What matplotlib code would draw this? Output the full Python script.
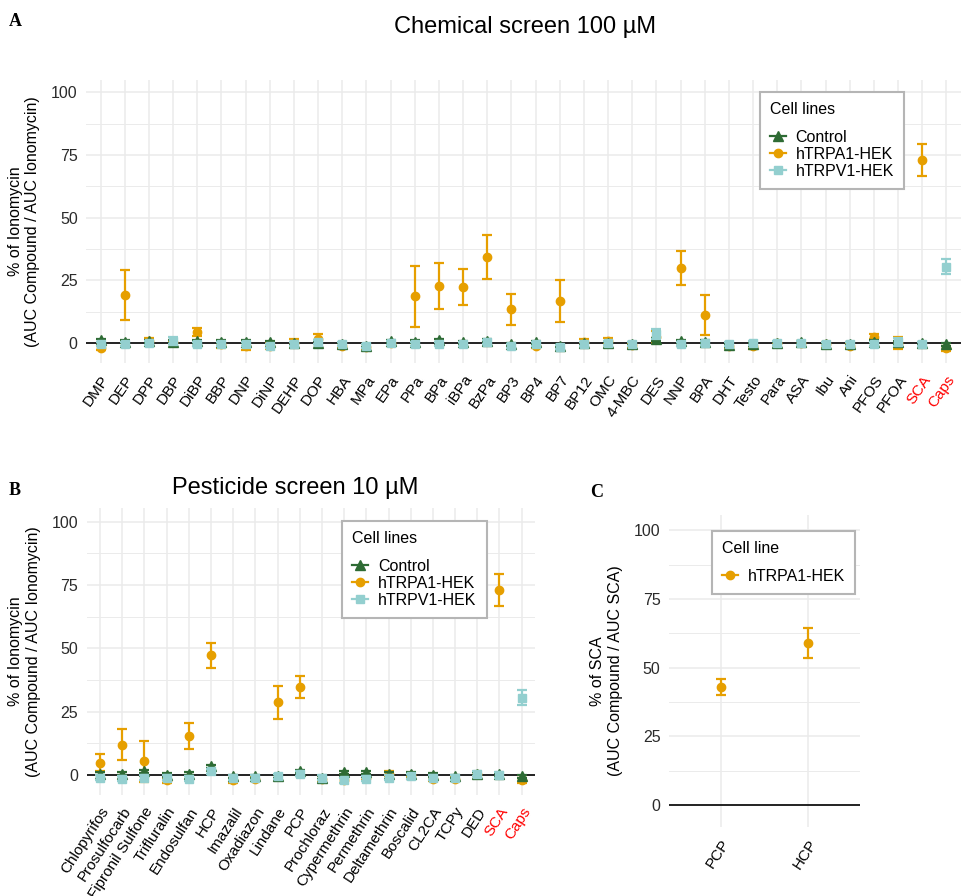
import matplotlib
matplotlib.use('Agg')
import matplotlib.pyplot as plt
import numpy as np
from matplotlib.lines import Line2D

plt.rcParams['font.family'] = ['Liberation Sans', 'DejaVu Sans']

# ---- data: panel A (chemical screen 100 uM) ----
cats_a = ['DMP', 'DEP', 'DPP', 'DBP', 'DiBP', 'BBP', 'DNP', 'DiNP', 'DEHP', 'DOP',
          'HBA', 'MPa', 'EPa', 'PPa', 'BPa', 'iBPa', 'BzPa', 'BP3', 'BP4', 'BP7',
          'BP12', 'OMC', '4-MBC', 'DES', 'NNP', 'BPA', 'DHT', 'Testo', 'Para', 'ASA',
          'Ibu', 'Ani', 'PFOS', 'PFOA', 'SCA', 'Caps']
ctrl_a = [1.2, 0.5, 0.8, 0.5, 0.8, 0.5, 0.5, 0.3, 0.0, 0.2,
          -0.5, -1.0, 0.8, 0.5, 1.2, 0.3, 1.0, -0.5, 0.3, -1.0,
          0.0, 0.0, -0.3, 1.5, 0.8, 0.5, -0.8, -0.5, 0.0, 0.3,
          -0.5, -0.3, 0.5, 0.3, 0.0, -0.5]
ctrl_a_err = [0.6] * 36
trpa1_a = [-1.8, 19.2, 1.0, 0.5, 4.5, -0.5, -1.0, -1.0, 0.0, 1.5,
           -1.0, -1.5, 0.0, 18.6, 22.9, 22.4, 34.4, 13.5, -1.0, 16.7,
           0.5, 0.8, -0.8, 2.5, 30.1, 11.1, -1.0, -1.0, 0.0, 0.0,
           -0.5, -1.0, 2.5, 0.0, 73.0, -2.0]
trpa1_a_err = [1.0, 9.8, 1.0, 0.5, 1.5, 1.3, 1.7, 1.3, 1.5, 2.0,
               1.0, 1.0, 1.0, 12.0, 9.2, 7.0, 8.7, 6.1, 1.0, 8.3,
               1.2, 1.2, 1.0, 2.5, 6.8, 8.0, 1.0, 1.2, 0.5, 0.8,
               1.0, 1.0, 1.0, 2.5, 6.4, 1.0]
trpv1_a = [-0.5, -0.5, 0.0, 1.0, -0.5, -0.5, -0.5, -1.0, -0.5, 0.5,
           -0.5, -1.0, 0.0, -0.5, -0.5, -0.5, 0.3, -1.0, -0.5, -1.5,
           -0.5, 0.0, -0.5, 3.5, -0.5, 0.0, -0.5, 0.0, 0.0, 0.0,
           -0.5, -0.5, -0.5, 0.5, -0.5, 30.5]
trpv1_a_err = [0.8, 0.8, 0.8, 1.5, 0.8, 0.8, 0.8, 0.8, 0.8, 0.8,
               0.8, 0.8, 0.8, 0.8, 0.8, 0.8, 0.8, 0.8, 0.8, 0.8,
               0.8, 0.8, 0.8, 2.0, 0.8, 0.8, 0.8, 0.8, 0.8, 0.8,
               0.8, 0.8, 0.8, 1.5, 0.8, 3.0]

# ---- data: panel B (pesticide screen 10 uM) ----
cats_b = ['Chlopyrifos', 'Prosulfocarb', 'Fipronil Sulfone', 'Trifluralin', 'Endosulfan',
          'HCP', 'Imazalil', 'Oxadiazon', 'Lindane', 'PCP', 'Prochloraz', 'Cypermethrin',
          'Permethrin', 'Deltamethrin', 'Boscalid', 'CL2CA', 'TCPy', 'DED', 'SCA', 'Caps']
ctrl_b = [0.5, 0.5, 1.5, 0.0, 0.5, 3.5, -0.5, -0.5, -0.5, 1.5,
          -1.0, 1.0, 1.0, 0.5, 0.5, 0.0, -0.5, 0.5, 0.3, -0.5]
ctrl_b_err = [0.6] * 20
trpa1_b = [4.9, 12.0, 5.4, -2.0, 15.5, 47.2, -2.0, -1.5, 28.8, 34.7,
           -1.5, -2.0, -1.0, 0.5, 0.0, -1.5, -1.5, 0.5, 73.0, -2.0]
trpa1_b_err = [3.5, 6.0, 8.0, 1.0, 5.2, 4.9, 1.0, 1.0, 6.5, 4.2,
               1.0, 1.0, 1.0, 1.0, 0.8, 1.0, 1.0, 0.8, 6.4, 1.0]
trpv1_b = [-1.0, -1.5, -1.0, -1.0, -1.5, 1.5, -1.0, -1.0, -0.5, 0.5,
           -1.0, -2.0, -1.5, -1.0, -0.5, -1.0, -1.0, 0.5, 0.0, 30.5]
trpv1_b_err = [1.0] * 19 + [3.0]

# ---- data: panel C (% of SCA) ----
cats_c = ['PCP', 'HCP']
trpa1_c = [43.0, 59.0]
trpa1_c_err = [2.8, 5.4]

red_labels = ['SCA', 'Caps']
c_ctrl = '#2e6b34'
c_a1 = '#e69f00'
c_v1 = '#93cfcf'
grid_c = '#ebebeb'

fig = plt.figure(figsize=(9.61, 8.96), dpi=100)


def style_axes(ax, cats, ylim, rot, fs):
    x = np.arange(len(cats))
    ax.set_xlim(-0.6, len(cats) - 0.4)
    ax.set_ylim(*ylim)
    ax.set_yticks([0, 25, 50, 75, 100])
    ax.set_yticks([12.5, 37.5, 62.5, 87.5], minor=True)
    ax.set_xticks(x)
    ax.set_xticklabels(cats, rotation=rot, ha='right', rotation_mode='anchor', fontsize=fs)
    for t in ax.get_xticklabels():
        if t.get_text() in red_labels:
            t.set_color('red')
        else:
            t.set_color('black')
    ax.tick_params(axis='both', which='both', length=0)
    ax.tick_params(axis='y', labelsize=11.5, labelcolor='#2b2b2b', pad=6)
    ax.tick_params(axis='x', pad=7)
    ax.grid(True, which='major', color=grid_c, lw=1.1)
    ax.grid(True, which='minor', axis='y', color=grid_c, lw=0.7)
    ax.set_axisbelow(True)
    for s in ax.spines.values():
        s.set_visible(False)
    ax.axhline(0, color='black', lw=1.2, zorder=2)


def pointrange(ax, vals, errs, color, marker, ms, z):
    x = np.arange(len(vals))
    ax.errorbar(x, vals, yerr=errs, fmt=marker, color=color, ms=ms, lw=1.6,
                capsize=3.5, capthick=1.6, zorder=z)


def legend_handles(which):
    h = {
        'Control': Line2D([], [], color=c_ctrl, marker='^', ms=6.5, lw=1.6),
        'hTRPA1-HEK': Line2D([], [], color=c_a1, marker='o', ms=6, lw=1.6),
        'hTRPV1-HEK': Line2D([], [], color=c_v1, marker='s', ms=6, lw=1.6),
    }
    return [h[k] for k in which], which


def add_legend(ax, which, title, anchor):
    hs, ls = legend_handles(which)
    leg = ax.legend(hs, ls, title=title, loc='upper left', bbox_to_anchor=anchor,
                    borderaxespad=0, fancybox=False, framealpha=1, edgecolor='#b5b5b5',
                    fontsize=11.5, title_fontsize=11.5, handlelength=1.0,
                    handletextpad=0.6, labelspacing=0.12, borderpad=0.65)
    leg._legend_box.align = 'left'
    leg._legend_box.sep = 9
    leg.get_frame().set_linewidth(1.5)
    leg.set_zorder(10)


ylab = '% of Ionomycin\n(AUC Compound / AUC Ionomycin)'

# Panel A
axA = fig.add_axes([0.0895, 0.5949, 0.9105, 0.3158])
style_axes(axA, cats_a, (-7.9, 104.9), 55, 11)
pointrange(axA, trpa1_a, trpa1_a_err, c_a1, 'o', 6, 3)
pointrange(axA, ctrl_a, ctrl_a_err, c_ctrl, '^', 6.5, 4)
pointrange(axA, trpv1_a, trpv1_a_err, c_v1, 's', 6, 5)
axA.set_ylabel(ylab, fontsize=11.5, labelpad=8)
add_legend(axA, ['Control', 'hTRPA1-HEK', 'hTRPV1-HEK'], 'Cell lines', (0.770, 0.958))

# Panel B
axB = fig.add_axes([0.0902, 0.1127, 0.4665, 0.3203])
style_axes(axB, cats_b, (-7.9, 105.4), 57, 11)
pointrange(axB, trpa1_b, trpa1_b_err, c_a1, 'o', 6, 3)
pointrange(axB, ctrl_b, ctrl_b_err, c_ctrl, '^', 6.5, 4)
pointrange(axB, trpv1_b, trpv1_b_err, c_v1, 's', 6, 5)
axB.set_ylabel(ylab, fontsize=11.5, labelpad=8)
add_legend(axB, ['Control', 'hTRPA1-HEK', 'hTRPV1-HEK'], 'Cell lines', (0.5695, 0.955))

# Panel C
axC = fig.add_axes([0.696, 0.077, 0.1988, 0.348])
style_axes(axC, cats_c, (-8.0, 105.5), 57, 11)
pointrange(axC, trpa1_c, trpa1_c_err, c_a1, 'o', 6, 3)
axC.set_ylabel('% of SCA\n(AUC Compound / AUC SCA)', fontsize=11.5, labelpad=8)
add_legend(axC, ['hTRPA1-HEK'], 'Cell line', (0.225, 0.949))

# titles and panel letters
fig.text(525 / 961, 1 - 27 / 896, 'Chemical screen 100 µM', fontsize=17, ha='center', va='center')
fig.text(295 / 961, 1 - 488 / 896, 'Pesticide screen 10 µM', fontsize=17, ha='center', va='center')
for letter, px, py in [('A', 15, 22), ('B', 15, 490), ('C', 597, 492)]:
    fig.text(px / 961, 1 - py / 896, letter, fontsize=13, fontweight='bold',
             family='Liberation Serif', ha='center', va='center')

fig.savefig('out.png', dpi=100)
